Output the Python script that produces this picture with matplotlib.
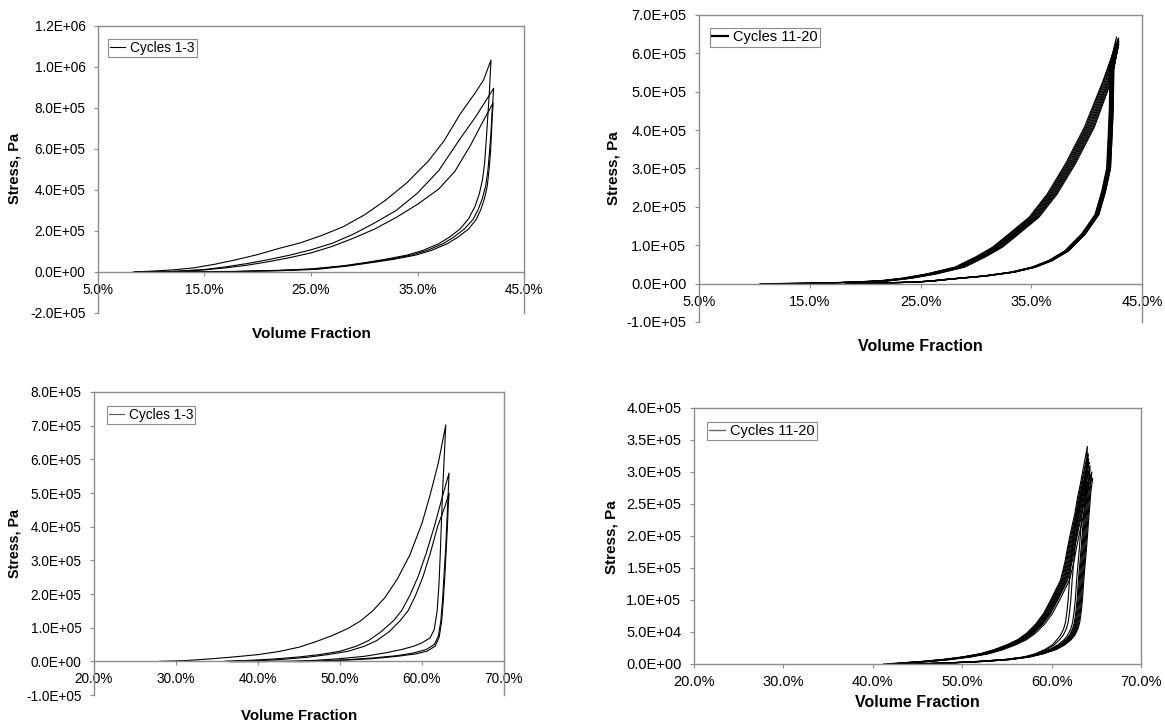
import matplotlib
matplotlib.use('Agg')
import matplotlib.pyplot as plt
from matplotlib.lines import Line2D
from matplotlib.ticker import FuncFormatter, MultipleLocator

plt.rcParams['font.family'] = ['Liberation Sans', 'DejaVu Sans']

# stress values are in units of 1e5 Pa, volume fraction in %

# ---- top left: cycles 1-3
tl_up_vf = [
    [8.3, 10, 12, 14, 16, 18, 20, 22, 24, 26, 28, 30, 32, 34, 36, 37.5, 39, 40.5, 41.2],
    [9, 12, 15, 17, 19, 21, 23, 25, 27, 29, 31, 33, 35, 37, 39, 40.5],
    [9, 12, 15, 17, 19, 21, 23, 25, 27, 29, 31, 33, 35, 37, 38.5, 40, 41],
]
tl_up_s = [
    [0, 0.04, 0.1, 0.2, 0.38, 0.6, 0.85, 1.15, 1.42, 1.78, 2.2, 2.78, 3.5, 4.35, 5.4, 6.4, 7.7, 8.8, 9.36],
    [0, 0.03, 0.12, 0.25, 0.41, 0.6, 0.82, 1.08, 1.4, 1.85, 2.4, 3.0, 3.85, 4.95, 6.5, 7.6],
    [0, 0.02, 0.1, 0.2, 0.33, 0.5, 0.7, 0.93, 1.25, 1.65, 2.1, 2.66, 3.3, 4.05, 4.9, 6.2, 7.2],
]
tl_peak_vf = [41.9, 42.15, 42.1]
tl_peak_s = [10.34, 8.96, 8.25]
tl_dn_vf = [
    [41.75, 41.6, 41.45, 41.3, 41.1, 40.8, 40.4, 39.8, 39, 38, 37, 35.5, 34, 32, 30, 28, 25, 22, 18, 14, 10, 8.5],
    [42.0, 41.9, 41.75, 41.6, 41.4, 41.1, 40.7, 40.2, 39.4, 38.4, 37.4, 35.9, 34.4, 32.4, 30.3, 28.3, 25.3, 22, 18, 14, 10],
    [42.0, 41.95, 41.85, 41.7, 41.55, 41.3, 40.95, 40.5, 39.8, 38.8, 37.8, 36.3, 34.8, 32.8, 30.6, 28.6, 25.6, 22, 18, 14, 10],
]
tl_dn_s = [
    [8.8, 7.6, 6.4, 5.3, 4.5, 3.8, 3.2, 2.6, 2.1, 1.7, 1.38, 1.05, 0.82, 0.62, 0.45, 0.3, 0.15, 0.08, 0.03, 0.01, 0, 0],
    [7.8, 6.8, 5.8, 4.9, 4.2, 3.6, 3.05, 2.55, 2.1, 1.7, 1.38, 1.05, 0.82, 0.62, 0.45, 0.3, 0.14, 0.07, 0.02, 0.01, 0],
    [7.4, 6.8, 5.8, 4.9, 4.2, 3.6, 3.05, 2.55, 2.1, 1.7, 1.38, 1.05, 0.82, 0.62, 0.45, 0.3, 0.13, 0.06, 0.02, 0, 0],
]

# ---- top right: cycles 11-20 (shared stress levels, vf per cycle)
tr_up_s = [0, 0.01, 0.03, 0.07, 0.14, 0.25, 0.43, 0.7, 0.95, 1.3, 1.73, 2.34, 3.13, 4.08, 5.30]
tr_up_vf = [
    [10.5, 15.1, 18.0, 21.5, 23.6, 25.8, 28.4, 30.3, 31.8, 33.3, 35.1, 36.75, 38.4, 40.1, 41.75],
    [11.5, 15.3, 18.2, 21.7, 23.8, 26.0, 28.6, 30.5, 32.0, 33.5, 35.3, 36.95, 38.6, 40.3, 41.95],
    [12.0, 15.0, 17.8, 21.3, 23.4, 25.6, 28.2, 30.1, 31.6, 33.1, 34.9, 36.55, 38.2, 39.9, 41.55],
    [12.5, 15.4, 18.3, 21.8, 23.9, 26.1, 28.7, 30.6, 32.1, 33.6, 35.4, 37.05, 38.7, 40.4, 42.0],
    [13.0, 15.2, 18.1, 21.6, 23.7, 25.9, 28.5, 30.4, 31.9, 33.4, 35.2, 36.85, 38.5, 40.2, 41.85],
    [13.5, 14.9, 17.7, 21.2, 23.3, 25.5, 28.1, 30.0, 31.5, 33.0, 34.8, 36.45, 38.1, 39.8, 41.5],
    [14.0, 15.5, 18.4, 21.9, 24.0, 26.2, 28.8, 30.7, 32.2, 33.7, 35.5, 37.15, 38.8, 40.5, 42.1],
    [14.5, 15.6, 18.5, 22.0, 24.1, 26.3, 28.9, 30.8, 32.3, 33.8, 35.6, 37.25, 38.9, 40.6, 42.2],
    [14.8, 15.8, 17.9, 21.4, 23.5, 25.7, 28.3, 30.2, 31.7, 33.2, 35.0, 36.65, 38.3, 40.0, 41.65],
    [15.0, 16.0, 18.6, 22.1, 24.2, 26.4, 29.0, 30.9, 32.4, 33.9, 35.7, 37.35, 39.0, 40.7, 42.25],
]
tr_peak_vf = [42.7, 42.8, 42.6, 42.9, 42.75, 42.55, 42.85, 42.9, 42.65, 42.9]
tr_peak_s = [6.43, 6.35, 6.2, 6.4, 6.3, 6.15, 6.38, 6.25, 6.1, 6.32]
tr_dn_s = [5.6, 4.6, 3.9, 3.0, 2.4, 1.8, 1.3, 0.86, 0.6, 0.43, 0.3, 0.2, 0.12, 0.07, 0.04, 0.0]
tr_dn_vf = [
    [42.25, 42.2, 42.1, 41.95, 41.5, 40.9, 39.7, 38.2, 36.7, 35.2, 33.3, 30.8, 27.7, 26.0, 24.5, 19.0],
    [42.35, 42.3, 42.2, 42.05, 41.6, 41.0, 39.8, 38.3, 36.8, 35.3, 33.4, 30.9, 27.8, 26.1, 24.6, 19.5],
    [42.15, 42.1, 42.0, 41.85, 41.4, 40.8, 39.6, 38.1, 36.6, 35.1, 33.2, 30.7, 27.6, 25.9, 24.4, 18.5],
    [42.4, 42.35, 42.25, 42.1, 41.65, 41.05, 39.85, 38.35, 36.85, 35.35, 33.45, 30.95, 27.85, 26.15, 24.65, 20.0],
    [42.3, 42.25, 42.15, 42.0, 41.55, 40.95, 39.75, 38.25, 36.75, 35.25, 33.35, 30.85, 27.75, 26.05, 24.55, 19.2],
    [42.1, 42.05, 41.95, 41.8, 41.35, 40.75, 39.55, 38.05, 36.55, 35.05, 33.15, 30.65, 27.55, 25.85, 24.35, 18.2],
    [42.4, 42.3, 42.2, 42.07, 41.62, 41.02, 39.82, 38.32, 36.82, 35.32, 33.42, 30.92, 27.82, 26.12, 24.62, 19.8],
    [42.45, 42.4, 42.3, 42.15, 41.7, 41.1, 39.9, 38.4, 36.9, 35.4, 33.5, 31.0, 27.9, 26.2, 24.7, 20.5],
    [42.2, 42.15, 42.05, 41.9, 41.45, 40.85, 39.65, 38.15, 36.65, 35.15, 33.25, 30.75, 27.65, 25.95, 24.45, 18.8],
    [42.45, 42.4, 42.3, 42.15, 41.7, 41.1, 39.9, 38.4, 36.9, 35.4, 33.5, 31.0, 27.9, 26.2, 24.7, 20.2],
]

# ---- bottom left: cycles 1-3
bl_up_vf = [
    [28, 31, 34, 37, 40, 42.5, 45, 47, 49, 51, 52.5, 54, 55.5, 57, 58.5, 60, 61, 62],
    [36, 39, 42, 45, 47.5, 50, 52, 53.5, 55, 56.5, 57.5, 58.5, 59.5, 60.5, 61.5, 62.5],
    [37, 40, 43, 46, 48.5, 51, 53, 54.5, 56, 57.3, 58.3, 59.2, 60.1, 61.0, 61.9, 62.8],
]
bl_up_s = [
    [0, 0.02, 0.07, 0.13, 0.2, 0.29, 0.42, 0.58, 0.76, 0.98, 1.2, 1.5, 1.9, 2.45, 3.15, 4.1, 4.95, 5.9],
    [0, 0.03, 0.07, 0.13, 0.2, 0.3, 0.45, 0.62, 0.88, 1.2, 1.5, 1.95, 2.5, 3.2, 4.0, 4.9],
    [0, 0.02, 0.06, 0.12, 0.2, 0.3, 0.45, 0.62, 0.88, 1.2, 1.5, 1.95, 2.5, 3.2, 4.0, 4.6],
]
bl_peak_vf = [62.9, 63.3, 63.3]
bl_peak_s = [7.02, 5.59, 5.0]
bl_dn_vf = [
    [62.7, 62.5, 62.35, 62.2, 62.05, 61.85, 61.5, 61.0, 60.0, 59.0, 57.5, 55.5, 53, 50, 47, 44, 40, 36.5],
    [63.2, 63.05, 62.9, 62.7, 62.5, 62.3, 62.0, 61.5, 60.5, 59.0, 57, 54, 51, 48, 44, 40, 36],
    [63.2, 63.1, 62.95, 62.8, 62.6, 62.4, 62.1, 61.6, 60.6, 59.2, 57, 54, 51, 48, 45, 40, 37],
]
bl_dn_s = [
    [6.0, 5.0, 4.0, 3.0, 2.2, 1.5, 0.95, 0.7, 0.55, 0.45, 0.35, 0.25, 0.15, 0.08, 0.03, 0.0, -0.01, -0.01],
    [5.0, 4.2, 3.4, 2.6, 1.8, 1.2, 0.75, 0.5, 0.35, 0.25, 0.17, 0.1, 0.05, 0.02, 0.0, 0.0, 0],
    [4.6, 4.0, 3.3, 2.6, 1.8, 1.2, 0.72, 0.45, 0.3, 0.22, 0.15, 0.08, 0.04, 0.0, -0.01, 0, 0],
]

# ---- bottom right: cycles 11-20 (shared stress levels, vf per cycle)
br_up_s = [0, 0.02, 0.04, 0.07, 0.11, 0.16, 0.22, 0.30, 0.38, 0.48, 0.62, 0.79, 1.0, 1.31,
           1.6, 1.83, 2.1, 2.35, 2.6, 2.8]
br_up_vf = [
    [41.2, 43.5, 45.5, 47.8, 50.0, 52.0, 53.5, 55.0, 56.2, 57.2, 58.2, 59.1, 59.9, 61.0, 61.5, 61.8, 62.2, 62.6, 62.9, 63.2],
    [42.0, 43.7, 45.7, 48.0, 50.2, 52.2, 53.7, 55.2, 56.4, 57.4, 58.4, 59.3, 60.1, 61.2, 61.7, 62.0, 62.4, 62.8, 63.1, 63.4],
    [42.5, 43.9, 45.9, 48.2, 50.4, 52.4, 53.9, 55.4, 56.6, 57.6, 58.6, 59.5, 60.3, 61.4, 61.9, 62.2, 62.6, 63.0, 63.3, 63.6],
    [43.0, 44.1, 46.1, 48.4, 50.6, 52.6, 54.1, 55.6, 56.8, 57.8, 58.8, 59.7, 60.5, 61.6, 62.1, 62.4, 62.8, 63.2, 63.5, 63.8],
    [41.6, 43.6, 45.6, 47.9, 50.1, 52.1, 53.6, 55.1, 56.3, 57.3, 58.3, 59.2, 60.0, 61.1, 61.6, 61.9, 62.3, 62.7, 63.0, 63.3],
    [43.5, 44.3, 46.3, 48.6, 50.8, 52.8, 54.3, 55.8, 57.0, 58.0, 59.0, 59.9, 60.7, 61.8, 62.3, 62.6, 63.0, 63.4, 63.7, 64.0],
    [42.2, 43.8, 45.8, 48.1, 50.3, 52.3, 53.8, 55.3, 56.5, 57.5, 58.5, 59.4, 60.2, 61.3, 61.8, 62.1, 62.5, 62.9, 63.2, 63.5],
    [44.0, 44.6, 46.5, 48.8, 51.0, 53.0, 54.5, 56.0, 57.2, 58.2, 59.2, 60.1, 60.9, 62.0, 62.5, 62.8, 63.2, 63.6, 63.9, 64.1],
    [42.8, 44.0, 46.0, 48.3, 50.5, 52.5, 54.0, 55.5, 56.7, 57.7, 58.7, 59.6, 60.4, 61.5, 62.0, 62.3, 62.7, 63.1, 63.4, 63.7],
    [43.3, 44.2, 46.2, 48.5, 50.7, 52.7, 54.2, 55.7, 56.9, 57.9, 58.9, 59.8, 60.6, 61.7, 62.2, 62.5, 62.9, 63.3, 63.6, 63.9],
]
br_peak_vf = [64.0, 64.1, 64.2, 64.3, 64.05, 64.5, 64.15, 64.6, 64.3, 64.45]
br_peak_s = [3.40, 3.28, 3.15, 3.05, 3.3, 3.0, 3.2, 2.9, 3.1, 2.95]
br_dn_s = [2.7, 2.35, 1.8, 1.31, 1.0, 0.8, 0.65, 0.55, 0.45, 0.38, 0.3, 0.23, 0.16, 0.11,
           0.07, 0.04, 0.02, 0.0]
br_dn_vf = [
    [63.8, 63.6, 63.3, 63.0, 62.85, 62.7, 62.55, 62.35, 62.0, 61.6, 60.9, 60.0, 58.6, 57.2, 55.0, 52.0, 49.0, 45.0],
    [63.9, 63.7, 63.4, 63.1, 62.95, 62.8, 62.65, 62.45, 62.1, 61.7, 61.0, 60.1, 58.7, 57.3, 55.2, 52.2, 49.2, 45.5],
    [63.5, 63.0, 62.6, 62.3, 62.15, 62.0, 61.85, 61.65, 61.3, 60.9, 60.3, 59.5, 58.3, 57.0, 54.8, 51.8, 48.8, 44.5],
    [64.1, 63.9, 63.6, 63.3, 63.15, 63.0, 62.85, 62.65, 62.3, 61.9, 61.2, 60.3, 58.9, 57.4, 55.3, 52.3, 49.3, 46.0],
    [63.7, 63.4, 63.1, 62.8, 62.65, 62.5, 62.35, 62.15, 61.8, 61.4, 60.7, 59.8, 58.5, 57.1, 54.9, 51.9, 48.9, 44.8],
    [64.3, 64.1, 63.8, 63.5, 63.35, 63.2, 63.05, 62.85, 62.5, 62.1, 61.4, 60.5, 59.0, 57.5, 55.4, 52.4, 49.4, 46.5],
    [63.4, 62.8, 62.3, 62.0, 61.85, 61.7, 61.55, 61.35, 61.0, 60.6, 60.1, 59.3, 58.2, 56.9, 54.7, 51.7, 48.7, 44.2],
    [64.4, 64.2, 63.9, 63.6, 63.45, 63.3, 63.15, 62.95, 62.6, 62.2, 61.5, 60.6, 59.1, 57.6, 55.5, 52.5, 49.5, 47.0],
    [64.0, 63.8, 63.5, 63.2, 63.05, 62.9, 62.75, 62.55, 62.2, 61.8, 61.1, 60.2, 58.8, 57.3, 55.1, 52.1, 49.1, 45.2],
    [64.2, 64.0, 63.7, 63.4, 63.25, 63.1, 62.95, 62.75, 62.4, 62.0, 61.3, 60.4, 59.0, 57.4, 55.3, 52.3, 49.3, 46.2],
]


def loop(up_vf, up_s, pk_vf, pk_s, dn_vf, dn_s):
    x = list(up_vf) + [pk_vf] + list(dn_vf)
    y = list(up_s) + [pk_s] + list(dn_s)
    return x, [v * 1e5 for v in y]


GRAY = '#8c8c8c'


def style_axes(ax, xlim, xstep, ylim, ystep, fs, zero_axis=True):
    ax.set_xlim(*xlim)
    ax.set_ylim(*ylim)
    ax.xaxis.set_major_locator(MultipleLocator(xstep, offset=xlim[0] % xstep))
    ax.yaxis.set_major_locator(MultipleLocator(ystep))
    ax.xaxis.set_major_formatter(FuncFormatter(lambda v, p: f"{v:.1f}%"))
    ax.yaxis.set_major_formatter(FuncFormatter(lambda v, p: f"{v:.1E}"))
    for sp in ax.spines.values():
        sp.set_color(GRAY)
        sp.set_linewidth(1.0)
    if zero_axis:
        ax.spines['bottom'].set_position(('data', 0))
    ax.tick_params(direction='out', length=3, width=0.8, color=GRAY,
                   labelcolor='black', labelsize=fs)
    ax.tick_params(axis='x', pad=5)
    ax.tick_params(axis='y', pad=6)


def add_legend(ax, text, x, y, color, lw, fs):
    h = Line2D([], [], color=color, lw=lw)
    leg = ax.legend([h], [text], loc='upper left', bbox_to_anchor=(x, y),
                    borderaxespad=0, fancybox=False, framealpha=1,
                    edgecolor=GRAY, fontsize=fs, handlelength=1.1,
                    handletextpad=0.35, borderpad=0.15)
    leg.get_frame().set_linewidth(0.8)


def labels(ax, xl_y, yl_x, yl_y, fs):
    ax.set_xlabel('Volume Fraction', fontsize=fs, fontweight='bold', va='center')
    ax.xaxis.set_label_coords(0.5, xl_y)
    ax.set_ylabel('Stress, Pa', fontsize=fs - 0.5, fontweight='bold', va='center')
    ax.yaxis.set_label_coords(yl_x, yl_y)


fig = plt.figure(figsize=(11.65, 7.27), dpi=100)

# top left
ax1 = fig.add_axes([0.0841, 0.5695, 0.3657, 0.3948])
for i in range(3):
    x, y = loop(tl_up_vf[i], tl_up_s[i], tl_peak_vf[i], tl_peak_s[i], tl_dn_vf[i], tl_dn_s[i])
    ax1.plot(x, y, color='black', lw=0.8)
style_axes(ax1, (5, 45), 10, (-2e5, 1.2e6), 2e5, 9.8)
add_legend(ax1, 'Cycles 1-3', 0.024, 0.954, 'black', 0.8, 9.8)
labels(ax1, -0.073, -0.195, 0.505, 11)

# top right
ax2 = fig.add_axes([0.6, 0.5571, 0.3803, 0.4223])
for i in range(len(tr_up_vf)):
    x, y = loop(tr_up_vf[i], tr_up_s, tr_peak_vf[i], tr_peak_s[i], tr_dn_vf[i], tr_dn_s)
    ax2.plot(x, y, color='black', lw=0.8)
style_axes(ax2, (5, 45), 10, (-1e5, 7e5), 1e5, 10.5)
add_legend(ax2, 'Cycles 11-20', 0.024, 0.957, 'black', 1.6, 10.5)
labels(ax2, -0.081, -0.194, 0.50, 11.5)

# bottom left
ax3 = fig.add_axes([0.0807, 0.0440, 0.3519, 0.4168])
for i in range(3):
    x, y = loop(bl_up_vf[i], bl_up_s[i], bl_peak_vf[i], bl_peak_s[i], bl_dn_vf[i], bl_dn_s[i])
    ax3.plot(x, y, color='black', lw=0.8)
style_axes(ax3, (20, 70), 10, (-1e5, 8e5), 1e5, 9.8)
add_legend(ax3, 'Cycles 1-3', 0.032, 0.954, '#555555', 0.8, 9.8)
labels(ax3, -0.068, -0.193, 0.50, 10.8)

# bottom right
ax4 = fig.add_axes([0.5957, 0.0867, 0.3837, 0.3521])
for i in range(len(br_up_vf)):
    x, y = loop(br_up_vf[i], br_up_s, br_peak_vf[i], br_peak_s[i], br_dn_vf[i], br_dn_s)
    ax4.plot(x, y, color='black', lw=0.8)
style_axes(ax4, (20, 70), 10, (0, 4e5), 5e4, 10.5, zero_axis=False)
add_legend(ax4, 'Cycles 11-20', 0.028, 0.946, '#666666', 1.0, 10.5)
labels(ax4, -0.152, -0.184, 0.496, 11.5)

fig.savefig('out.png', dpi=100, facecolor='white')
